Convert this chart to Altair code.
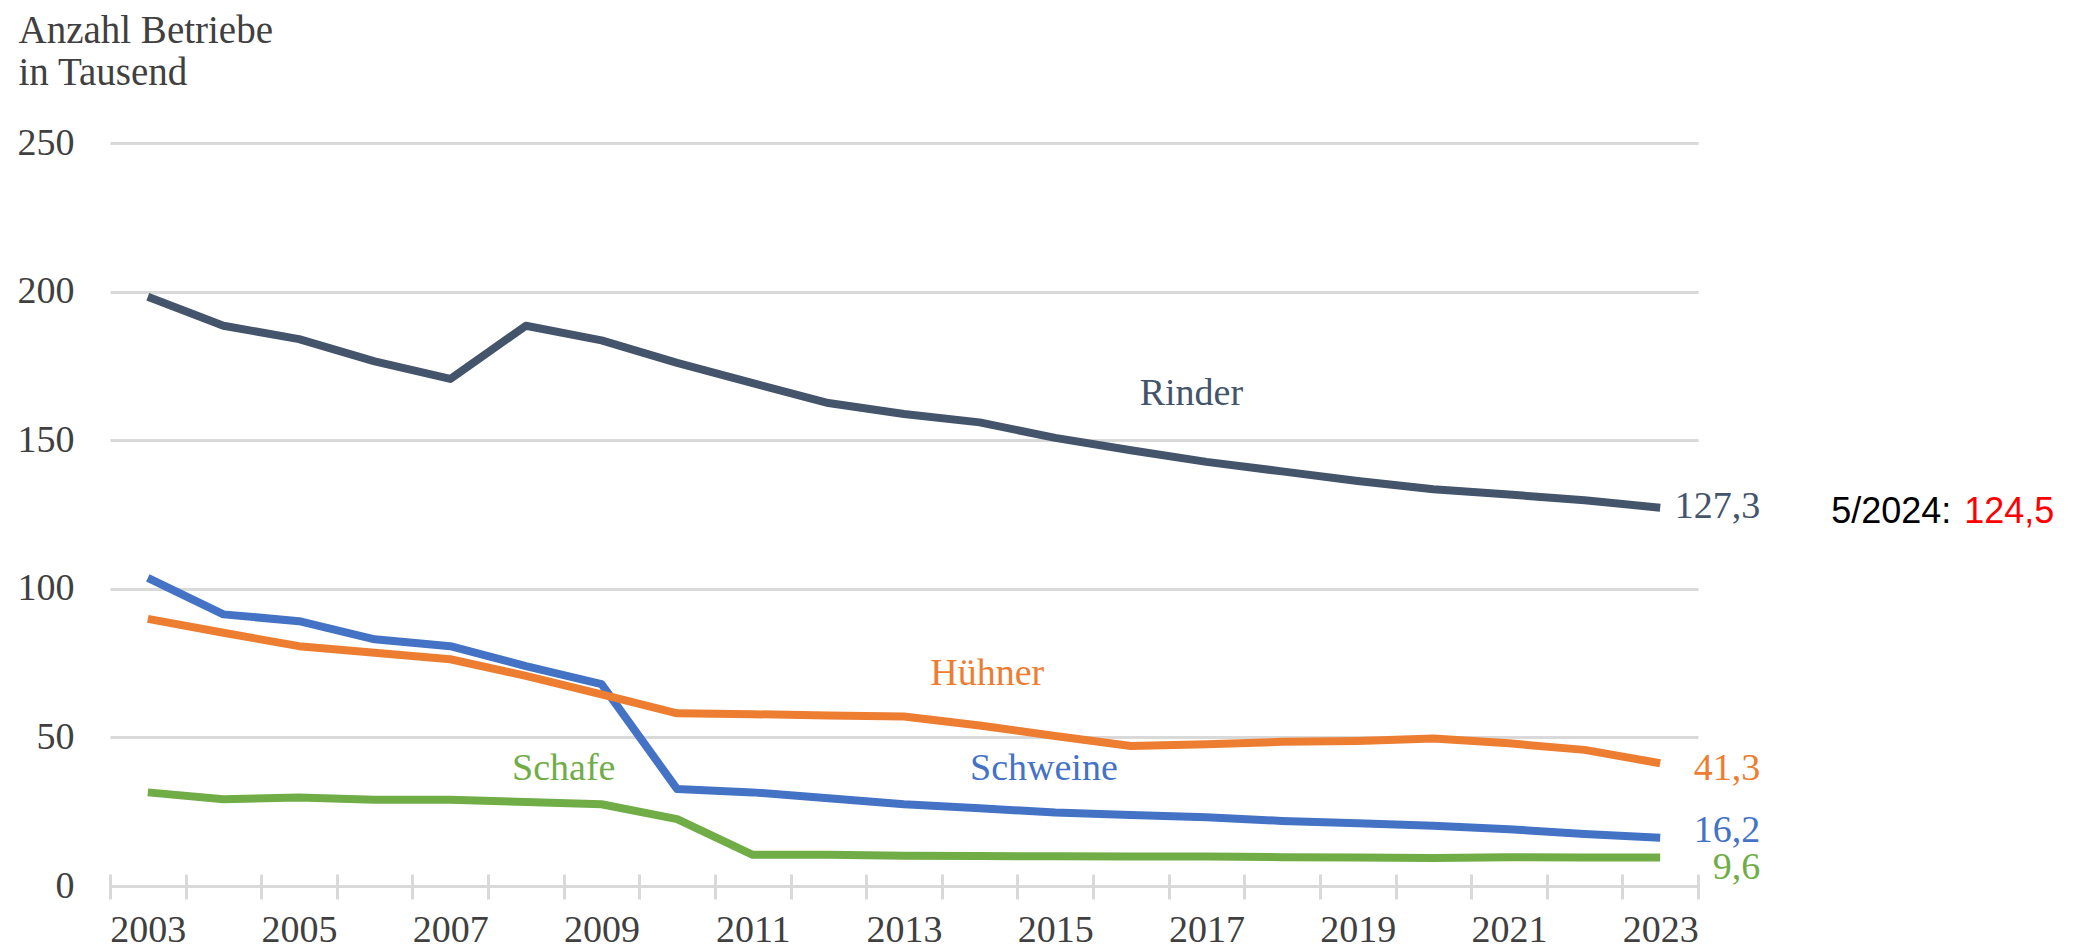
import altair as alt
import pandas as pd

# ---------------- data ----------------
years = list(range(2003, 2024))
rinder = [198.3, 188.5, 184.0, 176.5, 170.6, 188.5, 183.6, 176.0, 169.2, 162.5, 158.8,
          156.0, 150.8, 146.6, 142.7, 139.5, 136.3, 133.5, 131.7, 129.8, 127.3]
schweine = [103.7, 91.4, 89.1, 83.0, 80.7, 74.0, 67.9, 32.6, 31.5, 29.5, 27.5,
            26.2, 24.7, 23.9, 23.1, 21.9, 21.1, 20.3, 19.1, 17.5, 16.2]
huehner = [89.9, 85.2, 80.7, 78.5, 76.3, 70.7, 64.5, 58.1, 57.8, 57.4, 57.0,
           54.0, 50.5, 47.1, 47.7, 48.5, 48.8, 49.6, 48.0, 45.8, 41.3]
schafe = [31.5, 29.2, 29.8, 29.0, 29.0, 28.3, 27.5, 22.5, 10.5, 10.5, 10.2,
          10.1, 10.0, 9.9, 9.9, 9.7, 9.6, 9.4, 9.7, 9.6, 9.6]

series_names = ["Rinder", "Schweine", "Hühner", "Schafe"]
series_colors = ["#44546A", "#4472C4", "#ED7D31", "#70AD47"]
series_values = [rinder, schweine, huehner, schafe]

# series name labels (data coordinates)
name_x = [2016.8, 2014.85, 2014.1, 2008.5]
name_y = [161.8, 35.7, 67.6, 35.7]

# end value labels
end_texts = ["127,3", "16,2", "41,3", "9,6"]
end_dy = [-1, -7, 6, 11]

y_ticks = [0, 50, 100, 150, 200, 250]
x_tick_values = [2002.5 + i for i in range(22)]

note_label = "5/2024:"
note_value = "124,5"

# ---------------- tables ----------------
rows = []
for name, vals in zip(series_names, series_values):
    for yr, v in zip(years, vals):
        rows.append({"Jahr": yr, "Wert": v, "Tierart": name})
df = pd.DataFrame(rows)

names_df = pd.DataFrame({"Tierart": series_names, "x": name_x, "y": name_y})

SERIF = "Liberation Serif"
TXT = "#404040"

x_scale = alt.Scale(domain=[2002.5, 2023.5], nice=False, zero=False)
y_scale = alt.Scale(domain=[0, 250], nice=False)
color_scale = alt.Scale(domain=series_names, range=series_colors)

x_axis = alt.Axis(
    values=x_tick_values, grid=False, domain=False,
    tickSize=25, tickColor="#D9D9D9", tickWidth=3, offset=-12,
    labelExpr="(datum.value + 0.5) % 2 == 1 ? format(datum.value + 0.5, 'd') : ''",
    labelOffset=37.8, labelFlush=False, labelOverlap=False, labelPadding=12,
    labelFont=SERIF, labelFontSize=38, labelColor=TXT, title=None,
)
y_axis = alt.Axis(
    values=y_ticks, grid=True, gridColor="#D9D9D9", gridWidth=3,
    domain=False, ticks=False, labelPadding=36,
    labelFont=SERIF, labelFontSize=38, labelColor=TXT,
    title=["Anzahl Betriebe", "in Tausend"], titleAngle=0, titleAlign="left",
    titleBaseline="alphabetic", titleX=-92, titleY=-101, titleFont=SERIF,
    titleFontSize=39, titleFontWeight="normal", titleColor=TXT, titleLineHeight=42,
)


def X(field):
    return alt.X(field, scale=x_scale, axis=x_axis)


def Y(field):
    return alt.Y(field, scale=y_scale, axis=y_axis)


color_enc = alt.Color("Tierart:N", scale=color_scale, legend=None)

lines = alt.Chart(df).mark_line(strokeWidth=8, strokeJoin="round").encode(
    x=X("Jahr:Q"), y=Y("Wert:Q"), color=color_enc,
)

names = alt.Chart(names_df).mark_text(
    font=SERIF, fontSize=38, align="center", baseline="alphabetic"
).encode(x=X("x:Q"), y=Y("y:Q"), text="Tierart:N", color=color_enc)

layers = [lines, names]
for name, vals, txt, dy in zip(series_names, series_values, end_texts, end_dy):
    d = pd.DataFrame({"Jahr": [years[-1]], "Wert": [vals[-1]], "Tierart": [name], "t": [txt]})
    layers.append(
        alt.Chart(d).mark_text(
            font=SERIF, fontSize=38, align="right", baseline="middle", dx=100, dy=dy
        ).encode(x=X("Jahr:Q"), y=Y("Wert:Q"), text="t:N", color=color_enc)
    )

note_df = pd.DataFrame({"Jahr": [years[-1]], "Wert": [rinder[-1]], "a": [note_label], "b": [note_value]})
note_a = alt.Chart(note_df).mark_text(
    font="Liberation Sans", fontSize=36, align="left", baseline="middle", color="#000000", dx=171, dy=4
).encode(x=X("Jahr:Q"), y=Y("Wert:Q"), text="a:N")
note_b = alt.Chart(note_df).mark_text(
    font="Liberation Sans", fontSize=36, align="left", baseline="middle", color="#FF0000", dx=304, dy=4
).encode(x=X("Jahr:Q"), y=Y("Wert:Q"), text="b:N")
layers += [note_a, note_b]

chart = alt.layer(*layers).properties(
    width=1588, height=743,
    padding={"left": 102, "top": 135, "right": 380, "bottom": 64},
    autosize=alt.AutoSizeParams(type="none"),
    background="white",
).configure_view(stroke=None)

chart.save("out.html", embed_options={"renderer": "svg", "actions": False})
